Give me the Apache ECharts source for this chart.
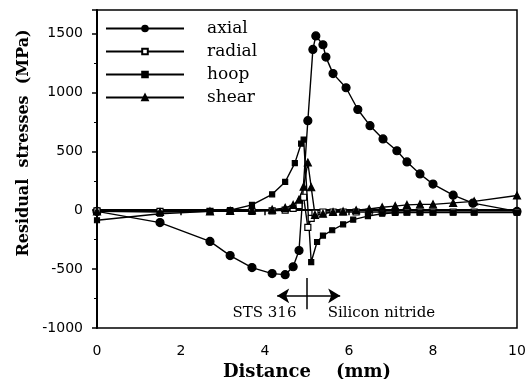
<!DOCTYPE html>
<html>
<head>
<meta charset="utf-8">
<script src="https://cdn.jsdelivr.net/npm/echarts@6/dist/echarts.min.js"></script>
<style>
  html, body { margin: 0; padding: 0; background: #fff; }
  #chart { width: 531px; height: 379px; }
</style>
</head>
<body>
<div id="chart"></div>
<script>
// distances (mm) and stresses (MPa)
var axialX = [0, 1.5, 2.69, 3.17, 3.69, 4.17, 4.48, 4.67, 4.81, 5.02, 5.14, 5.21, 5.38, 5.45, 5.62, 5.93, 6.21, 6.5, 6.81, 7.14, 7.38, 7.69, 8.0, 8.48, 8.95, 10];
var axialY = [-10, -105, -265, -385, -487, -538, -547, -480, -342, 760, 1365, 1480, 1405, 1300, 1160, 1040, 855, 718, 605, 505, 410, 308, 222, 128, 60, -10];

var radialX = [0, 1.5, 2.69, 3.17, 3.69, 4.17, 4.48, 4.67, 4.81, 4.92, 5.02, 5.1, 5.19, 5.38, 5.62, 5.86, 6.17, 6.48, 6.79, 7.1, 7.38, 7.69, 8.0, 8.48, 8.98, 10];
var radialY = [-5, -10, -10, -10, -10, -5, 0, 15, 40, 110, -145, -70, -25, -15, -15, -15, -15, -15, -15, -15, -15, -15, -15, -15, -15, -15];

var hoopX = [0, 1.5, 2.69, 3.17, 3.69, 4.17, 4.48, 4.71, 4.86, 4.92, 5.1, 5.24, 5.38, 5.6, 5.86, 6.1, 6.45, 6.79, 7.1, 7.38, 7.69, 8.0, 8.48, 8.98, 10];
var hoopY = [-85, -30, -10, 0, 45, 135, 240, 400, 565, 600, -440, -270, -215, -170, -120, -80, -50, -30, -22, -20, -20, -20, -20, -20, -20];

var shearX = [0, 1.5, 2.69, 3.17, 3.69, 4.17, 4.48, 4.67, 4.81, 4.92, 5.02, 5.1, 5.19, 5.38, 5.62, 5.86, 6.17, 6.48, 6.79, 7.1, 7.38, 7.69, 8.0, 8.48, 8.98, 10];
var shearY = [-10, -15, -10, -5, 0, 5, 20, 45, 90, 200, 405, 195, -40, -30, -15, -10, 0, 10, 25, 35, 45, 50, 50, 62, 75, 125];

var seriesNames = ['axial', 'radial', 'hoop', 'shear'];

function zip(xs, ys) {
    return xs.map(function (x, i) { return [x, ys[i]]; });
}

var serif = 'DejaVu Serif';
var sans = 'DejaVu Sans';

function lineSeries(name, xs, ys, symbol, size, fill) {
    return {
        name: name,
        type: 'line',
        data: zip(xs, ys),
        symbol: symbol,
        symbolSize: size,
        showAllSymbol: true,
        lineStyle: { color: '#000', width: 1.4 },
        itemStyle: { color: fill, borderColor: '#000', borderWidth: 1.2 },
        emphasis: { disabled: true },
        animation: false
    };
}

var myChart = echarts.init(document.getElementById('chart'));

var option = {
    backgroundColor: '#fff',
    animation: false,
    grid: {
        left: 97, right: 14, top: 10, bottom: 51,
        outerBoundsMode: 'none',
        show: true, borderColor: '#000', borderWidth: 1.5
    },
    legend: {
        data: seriesNames,
        orient: 'vertical',
        left: 105,
        top: 20,
        padding: 0,
        itemWidth: 78,
        itemHeight: 7,
        itemGap: 6,
        textStyle: { fontFamily: serif, fontSize: 17, color: '#000', lineHeight: 14, padding: [0, 0, 0, 18] }
    },
    xAxis: {
        type: 'value',
        min: 0, max: 10, interval: 2,
        name: 'Distance    (mm)',
        nameLocation: 'middle',
        nameGap: 31,
        nameTextStyle: { fontFamily: serif, fontWeight: 'bold', fontSize: 18, color: '#000' },
        axisLine: { lineStyle: { color: '#000', width: 2 } },
        axisTick: { lineStyle: { color: '#000', width: 1.5 }, length: 5 },
        axisLabel: { fontFamily: sans, fontSize: 14, color: '#000', margin: 16 },
        splitLine: { show: false }
    },
    yAxis: {
        type: 'value',
        min: -1000, max: 1700, interval: 500,
        name: 'Residual  stresses  (MPa)',
        nameLocation: 'middle',
        nameGap: 61,
        nameTextStyle: { fontFamily: serif, fontWeight: 'bold', fontSize: 16, color: '#000', padding: [0, 0, 0, 52] },
        axisLine: { lineStyle: { color: '#000', width: 2 } },
        axisTick: { lineStyle: { color: '#000', width: 1.5 }, length: 5 },
        minorTick: { show: true, splitNumber: 2, length: 3, lineStyle: { color: '#000' } },
        axisLabel: {
            fontFamily: sans, fontSize: 14, color: '#000', margin: 14,
            formatter: function (v) { return v % 500 === 0 ? String(v) : ''; }
        },
        splitLine: { show: false }
    },
    series: [
        lineSeries('axial', axialX, axialY, 'circle', 8, '#000'),
        lineSeries('radial', radialX, radialY, 'rect', 6, '#fff'),
        lineSeries('hoop', hoopX, hoopY, 'rect', 5, '#000'),
        lineSeries('shear', shearX, shearY, 'triangle', 7, '#000'),
        {
            name: 'interface',
            type: 'line',
            data: [],
            silent: true,
            markLine: {
                silent: true,
                symbolSize: [11, 12],
                lineStyle: { color: '#000', width: 1.5, type: 'solid' },
                label: { show: false },
                data: [
                    [{ coord: [4.29, -727], symbol: 'arrow' }, { coord: [5.79, -727], symbol: 'arrow' }],
                    [{ coord: [5.0, -575], symbol: 'none' }, { coord: [5.0, -840], symbol: 'none' }]
                ]
            },
            markPoint: {
                silent: true,
                symbol: 'rect',
                symbolSize: 1,
                itemStyle: { color: 'rgba(0,0,0,0)' },
                label: { show: true, formatter: '{b}', fontFamily: serif, fontSize: 15, color: '#000' },
                data: [
                    { name: 'STS 316', coord: [4.76, -872], label: { position: 'left', distance: 0 } },
                    { name: 'Silicon nitride', coord: [5.48, -872], label: { position: 'right', distance: 0 } }
                ]
            }
        }
    ]
};

myChart.setOption(option);
</script>
</body>
</html>
